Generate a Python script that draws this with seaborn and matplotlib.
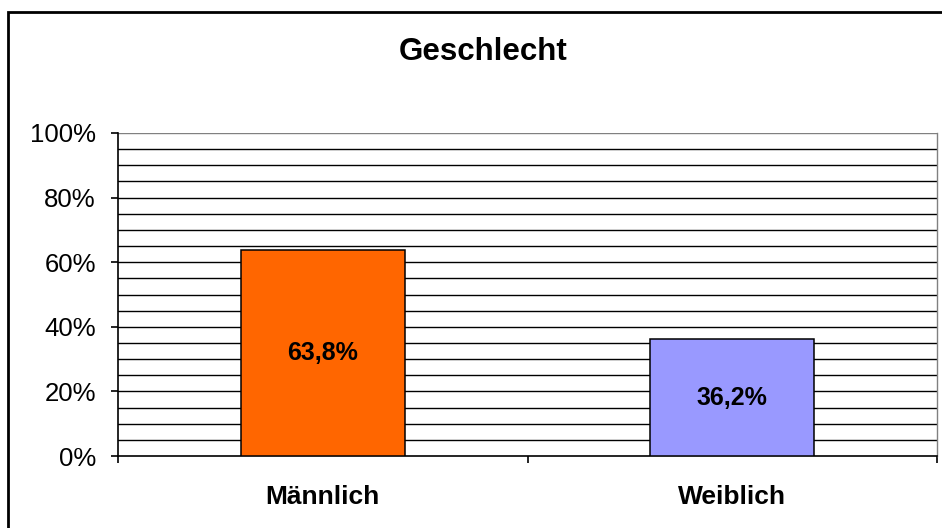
import matplotlib
matplotlib.use("Agg")
import matplotlib.pyplot as plt
import seaborn as sns
import pandas as pd
import numpy as np
from matplotlib.patches import Rectangle

categories = ["Männlich", "Weiblich"]
values = [63.8, 36.2]
value_labels = ["63,8%", "36,2%"]
title = "Geschlecht"
ytick_labels = ["0%", "20%", "40%", "60%", "80%", "100%"]

sns.set_style("white")
plt.rcParams['font.family'] = ['Liberation Sans', 'DejaVu Sans']
plt.rcParams['text.color'] = 'black'
plt.rcParams['xtick.color'] = 'black'
plt.rcParams['ytick.color'] = 'black'
plt.rcParams['xtick.labelcolor'] = 'black'
plt.rcParams['ytick.labelcolor'] = 'black'

df = pd.DataFrame({"cat": categories, "val": values})

fig = plt.figure(figsize=(9.42, 5.28), dpi=100)
ax = fig.add_axes([118/942, 1-456/528, (937-118)/942, (456-133)/528])

sns.barplot(data=df, x="cat", y="val", hue="cat", palette=["#FF6600", "#9999FF"],
            width=0.4, edgecolor="black", linewidth=1.1, legend=False, ax=ax, zorder=3,
            saturation=1)

ax.set_xlim(-0.5, 1.5)
ax.set_ylim(0, 100)

# gridlines every 5%
for yv in np.arange(5, 100, 5):
    ax.axhline(yv, color="black", lw=1.0, zorder=1)
ax.axhline(100, color="#808080", lw=1.0, zorder=1)

ax.spines["top"].set_visible(False)
ax.spines["right"].set_color("#808080")
ax.spines["right"].set_linewidth(1.0)
ax.spines["left"].set_color("black")
ax.spines["left"].set_linewidth(1.2)
ax.spines["bottom"].set_color("black")
ax.spines["bottom"].set_linewidth(1.2)

ax.set_yticks([0, 20, 40, 60, 80, 100])
ax.set_yticklabels(ytick_labels, fontsize=18.5, color="black")
ax.tick_params(axis="y", length=5, width=1.2, color="black", pad=11, direction="out", left=True)

ax.set_xticks([0, 1])
ax.set_xticklabels(categories, fontsize=19, fontweight="bold", color="black")
ax.set_xticks([-0.5, 0.5, 1.5], minor=True)
ax.tick_params(axis="x", which="major", length=0, pad=21)
ax.tick_params(axis="x", which="minor", length=5, width=1.2, color="black", direction="out", bottom=True)
ax.set_xlabel("")
ax.set_ylabel("")

for i, (v, lab) in enumerate(zip(values, value_labels)):
    ax.text(i, v/2, lab, ha="center", va="center", fontsize=18, fontweight="bold",
            color="black", zorder=5)

fig.text(483/942, 1-52/528, title, ha="center", va="center", fontsize=22.5,
         fontweight="bold", color="black")

# outer frame
fig.patches.append(Rectangle((8/942, -0.05), 1.1, 1-12/528+0.05, transform=fig.transFigure,
                             fill=False, edgecolor="black", lw=2.0))

fig.savefig("out.png", dpi=100)
